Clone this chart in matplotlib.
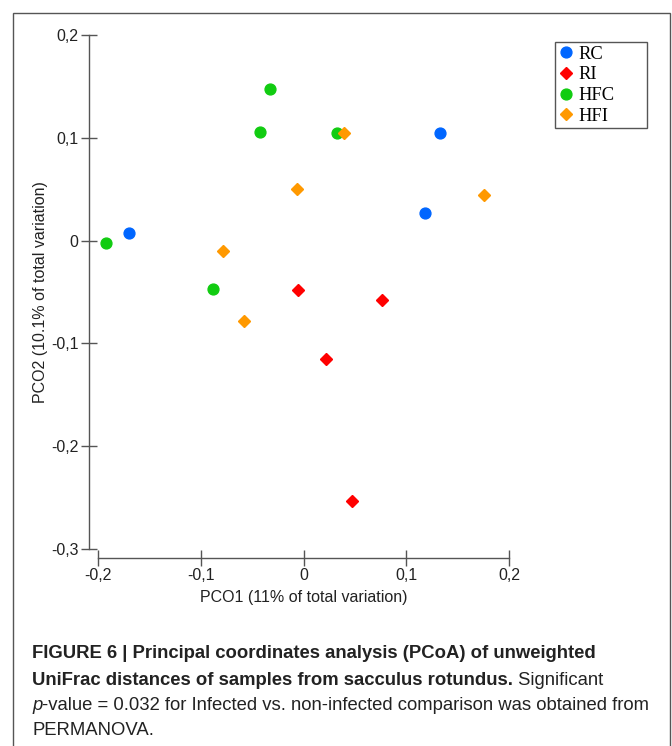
import matplotlib.pyplot as plt
from matplotlib.patches import Rectangle

plt.rcParams['font.family'] = ['Liberation Sans', 'DejaVu Sans']
plt.rcParams['axes.unicode_minus'] = False

# PCoA coordinates
rc_x = [-0.170, 0.133, 0.118]
rc_y = [0.007, 0.105, 0.027]
ri_x = [-0.005, 0.076, 0.022, 0.047]
ri_y = [-0.048, -0.058, -0.115, -0.253]
hfc_x = [-0.192, -0.033, -0.042, 0.033, -0.088]
hfc_y = [-0.002, 0.147, 0.106, 0.105, -0.047]
hfi_x = [0.039, -0.006, -0.078, -0.058, 0.176]
hfi_y = [0.105, 0.050, -0.010, -0.078, 0.044]

x_ticks = [-0.2, -0.1, 0, 0.1, 0.2]
x_ticklabels = ['-0,2', '-0,1', '0', '0,1', '0,2']
y_ticks = [-0.3, -0.2, -0.1, 0, 0.1, 0.2]
y_ticklabels = ['-0,3', '-0,2', '-0,1', '0', '0,1', '0,2']

W, H = 672, 746
fig = plt.figure(figsize=(W / 100, H / 100), dpi=100)

# outer frame
fig.patches.append(Rectangle((13 / W, -0.05), (670 - 13) / W, 1.05 - 13 / H,
                             transform=fig.transFigure, fill=False,
                             edgecolor='#555555', linewidth=1.0))

ax = fig.add_axes([98 / W, 1 - 549 / H, (509 - 98) / W, (549 - 35) / H])

ax.plot(rc_x, rc_y, 'o', color='#0066ff', markersize=7.8, label='RC')
ax.plot(ri_x, ri_y, 'D', color='#ff0000', markersize=6.6, label='RI')
ax.plot(hfc_x, hfc_y, 'o', color='#11cc11', markersize=7.8, label='HFC')
ax.plot(hfi_x, hfi_y, 'D', color='#ff9900', markersize=6.6, label='HFI')

ax.set_xlim(-0.2, 0.2)
ax.set_ylim(-0.3, 0.2)
ax.set_xticks(x_ticks)
ax.set_xticklabels(x_ticklabels)
ax.set_yticks(y_ticks)
ax.set_yticklabels(y_ticklabels)

for s in ['top', 'right']:
    ax.spines[s].set_visible(False)
for s in ['left', 'bottom']:
    ax.spines[s].set_position(('outward', 6.5))
    ax.spines[s].set_color('#555555')
    ax.spines[s].set_linewidth(1.0)
ax.tick_params(direction='inout', length=11, width=1.0, color='#555555',
               labelsize=11.5, pad=2, labelcolor='#222222')

ax.set_xlabel('PCO1 (11% of total variation)', fontsize=11.5, color='#222222', labelpad=5)
ax.set_ylabel('PCO2 (10.1% of total variation)', fontsize=11.5, color='#222222', labelpad=2)

leg = ax.legend(loc='upper left',
                bbox_to_anchor=(555 / W, 1 - 128 / H, (647 - 555) / W, (128 - 42) / H),
                bbox_transform=fig.transFigure, borderaxespad=0, mode='expand',
                prop={'family': 'Liberation Serif', 'size': 13.3},
                fancybox=False, edgecolor='#555555', framealpha=1,
                handlelength=0.8, handletextpad=0.25, labelspacing=0.2,
                borderpad=0.2, numpoints=1)
leg.get_frame().set_linewidth(1.0)

# caption
cap = dict(fontsize=13.3, color='#222222', ha='left', va='baseline')
fig.text(32 / W, 1 - 658 / H,
         'FIGURE 6 | Principal coordinates analysis (PCoA) of unweighted',
         fontweight='bold', **cap)
t2 = fig.text(32 / W, 1 - 685 / H,
              'UniFrac distances of samples from sacculus rotundus.',
              fontweight='bold', **cap)
t2b = fig.text(0, 0, ' Significant', **cap)
t3 = fig.text(32 / W, 1 - 710 / H, 'p', style='italic', **cap)
fig.text(32 / W, 1 - 735 / H, 'PERMANOVA.', **cap)

fig.canvas.draw()
r = fig.canvas.get_renderer()
bb2 = t2.get_window_extent(r)
t2b.set_position((bb2.x1 / W, 1 - 685 / H))
bb3 = t3.get_window_extent(r)
fig.text(bb3.x1 / W, 1 - 710 / H,
         '-value = 0.032 for Infected vs. non-infected comparison was obtained from',
         **cap)

fig.savefig('out.png', dpi=100)
